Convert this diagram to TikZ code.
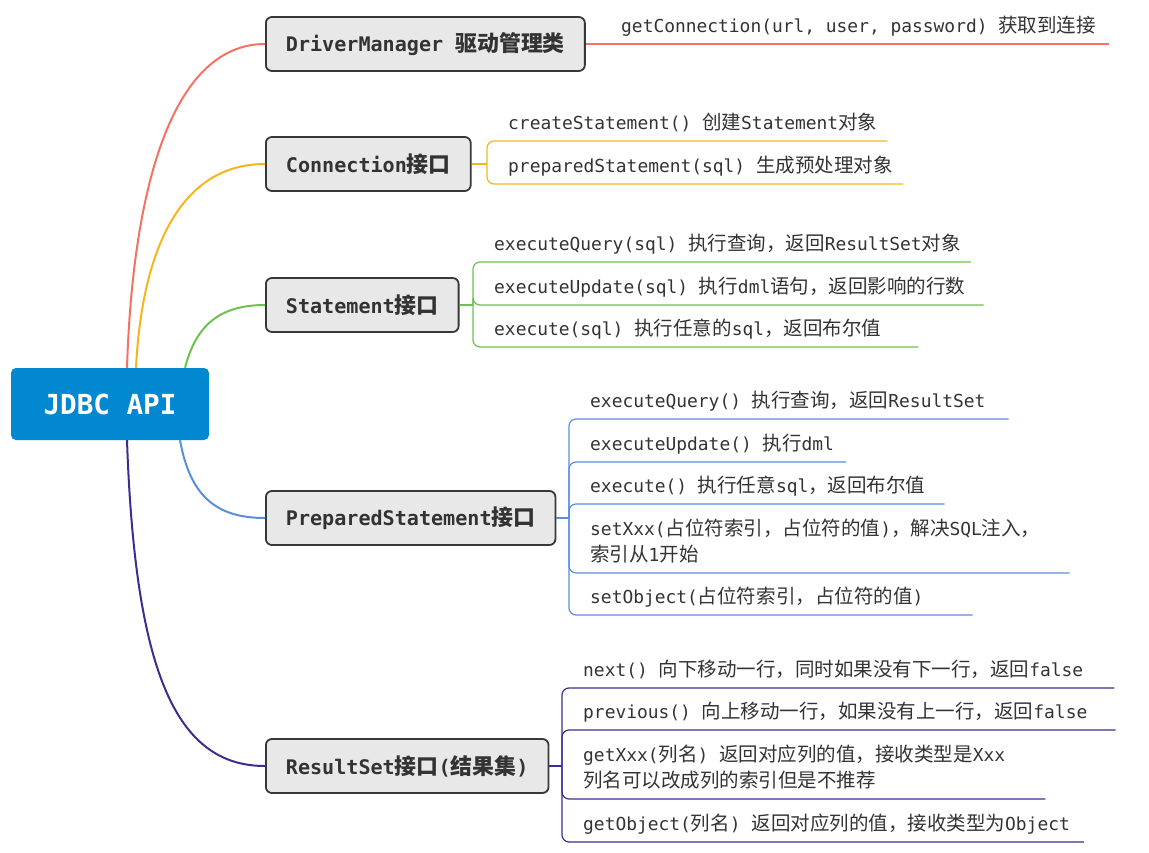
\documentclass[tikz,border=0pt]{standalone}
\usepackage{fontspec}
\setmonofont{DejaVu Sans Mono}
\newfontfamily\cjk[Scale=1.09]{Noto Sans CJK SC}
\usepackage{xcolor}
\usetikzlibrary{calc}
\definecolor{jdbcblue}{HTML}{0288D1}
\definecolor{boxgray}{HTML}{E8E8E8}
\definecolor{boxedge}{HTML}{383838}
\definecolor{ink}{HTML}{333333}
\definecolor{cred}{HTML}{F47262}
\definecolor{corange}{HTML}{F8B41C}
\definecolor{cgreen}{HTML}{6DC150}
\definecolor{cblue}{HTML}{5A8EDA}
\definecolor{cpurple}{HTML}{3D2D8F}
\newcommand\zh[1]{{\cjk #1}}
\newcommand\twolines[2]{\begin{tabular}[b]{@{}l@{}}#1\\#2\end{tabular}}

\begin{document}
\begin{tikzpicture}[x=1pt, y=-1pt,
  root/.style={fill=jdbcblue, rounded corners=5pt, minimum width=198pt,
    minimum height=72pt, text=white, font=\fontsize{27.6pt}{32pt}\ttfamily\bfseries},
  topic/.style={draw=boxedge, fill=boxgray, line width=1.8pt, rounded corners=6pt,
    anchor=west, inner xsep=20pt, minimum height=54pt, text=ink,
    font=\fontsize{20.1pt}{24pt}\ttfamily\bfseries},
  leaf/.style={anchor=south west, inner xsep=10pt, inner ysep=7pt, text depth=4pt,
    text=ink, font=\fontsize{17.9pt}{26pt}\ttfamily},
  branch/.style={line width=2pt},
  twig/.style={line width=1.2pt, rounded corners=7pt}
]
\useasboundingbox (0,0) rectangle (1149,853);
% root
\node[root] (jdbc) at (110,404) {JDBC API};
% topics
\node[topic] (dm)    at (265,44)  {DriverManager \zh{驱动管理类}};
\node[topic] (conn)  at (265,164) {Connection\zh{接口}};
\node[topic] (stmt)  at (265,305) {Statement\zh{接口}};
\node[topic] (pstmt) at (265,518) {PreparedStatement\zh{接口}};
\node[topic] (rs)    at (265,766) {ResultSet\zh{接口}(\zh{结果集})};
% branches
\draw[branch, cred] ([xshift=17pt]jdbc.north) .. controls (133,180) and (175,44) .. (dm.west);
\draw[branch, corange] ([xshift=26pt]jdbc.north) .. controls (142,250) and (180,164) .. (conn.west);
\draw[branch, cgreen] ([xshift=75pt]jdbc.north) .. controls (195,330) and (215,305) .. (stmt.west);
\draw[branch, cblue] ([xshift=70pt]jdbc.south) .. controls (190,495) and (215,518) .. (pstmt.west);
\draw[branch, cpurple] ([xshift=17pt]jdbc.south) .. controls (135,670) and (175,766) .. (rs.west);
% DriverManager
\node[leaf] (dm1) at (611,44) {getConnection(url, user, password) \zh{获取到连接}};
\draw[twig, cred] (dm.east) -- (dm1.south west) -- ([xshift=3pt]dm1.south east);
% Connection
\coordinate (cbr) at (487,164);
\node[leaf] (conn1) at (498,141) {createStatement() \zh{创建}Statement\zh{对象}};
\node[leaf] (conn2) at (498,184) {preparedStatement(sql) \zh{生成预处理对象}};
\draw[twig, corange] (conn.east) -- (cbr);
\foreach \n/\e in {conn1/0,conn2/0}
  \draw[twig, corange] (cbr) -- (\n.south west -| cbr) -- ([xshift=\e pt]\n.south east);
% Statement
\coordinate (sbr) at (473,305);
\node[leaf] (stmt1) at (484,262) {executeQuery(sql) \zh{执行查询，返回}ResultSet\zh{对象}};
\node[leaf] (stmt2) at (484,305) {executeUpdate(sql) \zh{执行}dml\zh{语句，返回影响的行数}};
\node[leaf] (stmt3) at (484,347) {execute(sql) \zh{执行任意的}sql\zh{，返回布尔值}};
\draw[twig, cgreen] (stmt.east) -- (sbr);
\foreach \n/\e in {stmt1/0,stmt2/8,stmt3/27}
  \draw[twig, cgreen] (sbr) -- (\n.south west -| sbr) -- ([xshift=\e pt]\n.south east);
% PreparedStatement
\coordinate (pbr) at (569,518);
\node[leaf] (pstmt1) at (580,419) {executeQuery() \zh{执行查询，返回}ResultSet};
\node[leaf] (pstmt2) at (580,462) {executeUpdate() \zh{执行}dml};
\node[leaf] (pstmt3) at (580,504) {execute() \zh{执行任意}sql\zh{，返回布尔值}};
\node[leaf] (pstmt4) at (580,573) {\twolines{setXxx(\zh{占位符索引，占位符的值})\zh{，解决}SQL\zh{注入，}}{\zh{索引从}1\zh{开始}}};
\node[leaf] (pstmt5) at (580,615) {setObject(\zh{占位符索引，占位符的值})};
\draw[twig, cblue] (pstmt.east) -- (pbr);
\foreach \n/\e in {pstmt1/13,pstmt2/2,pstmt3/9,pstmt4/19,pstmt5/39}
  \draw[twig, cblue] (pbr) -- (\n.south west -| pbr) -- ([xshift=\e pt]\n.south east);
% ResultSet
\coordinate (rbr) at (562,766);
\node[leaf] (rs1) at (573,688) {next() \zh{向下移动一行，同时如果没有下一行，返回}false};
\node[leaf] (rs2) at (573,730) {previous() \zh{向上移动一行，如果没有上一行，返回}false};
\node[leaf] (rs3) at (573,799) {\twolines{getXxx(\zh{列名}) \zh{返回对应列的值，接收类型是}Xxx}{\zh{列名可以改成列的索引但是不推荐}}};
\node[leaf] (rs4) at (573,842) {getObject(\zh{列名}) \zh{返回对应列的值，接收类型为}Object};
\draw[twig, cpurple] (rs.east) -- (rbr);
\foreach \n/\e in {rs1/21,rs2/18,rs3/30,rs4/4}
  \draw[twig, cpurple] (rbr) -- (\n.south west -| rbr) -- ([xshift=\e pt]\n.south east);
\end{tikzpicture}
\end{document}
